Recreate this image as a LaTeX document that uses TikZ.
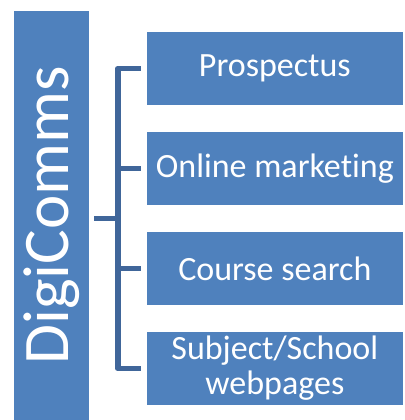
\documentclass[tikz,border=0pt]{standalone}
\usepackage{fontspec}
\setmainfont[Ligatures=NoCommon]{Carlito}
\definecolor{boxblue}{HTML}{4F81BD}
\definecolor{linkblue}{HTML}{40669A}
\begin{document}
\begin{tikzpicture}[x=1pt,y=-1pt,
    item/.style={fill=boxblue,text=white,inner sep=0pt,minimum width=256.3pt,minimum height=73.6pt,align=center,font=\fontsize{34}{35}\selectfont},
    link/.style={draw=linkblue,line width=5.5pt,line join=round}]
      \useasboundingbox (0,0) rectangle (404,420);
      \node[fill=boxblue,text=white,inner sep=0pt,rotate=90,minimum width=409pt,minimum height=74.7pt,font=\fontsize{65}{65}\selectfont] (digi) at (51.35,215.5) {DigiComms};
      \node[item] (prosp)  at (274.85,68.5)  {Prospectus};
      \node[item] (online) at (274.85,168.5) {Online market\kern0pt ing};
      \node[item] (course) at (274.85,268.5) {Course search};
      \node[item] (pages)  at (274.85,368.5) {Subject/School\\webpages};
      \coordinate (hub) at (118,218.5);
      \draw[link] ([xshift=-5.7pt]prosp.west) -- ++(-23,0) |- ([xshift=-5.7pt]pages.west);
      \foreach \n in {online,course} \draw[link] ([xshift=-5.7pt]\n.west) -- ++(-23,0);
      \draw[link] (hub) -- ([xshift=5.3pt]hub -| digi.south);
\end{tikzpicture}
\end{document}
